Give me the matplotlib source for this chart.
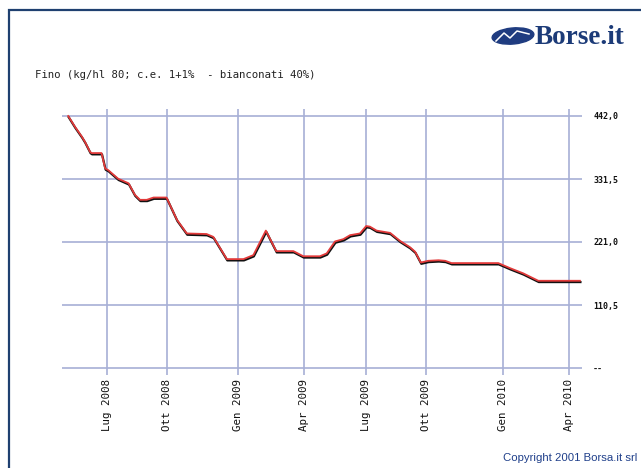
import matplotlib
matplotlib.use("Agg")
import matplotlib.pyplot as plt
import matplotlib.transforms as mtransforms
from matplotlib.patches import Rectangle, Ellipse

# time index (0..100 across plot width) and price
t = [1.2, 2.5, 3.8, 4.4, 5.4, 5.7, 7.6, 8.3, 8.9, 9.9, 10.8, 12.8, 14.0, 15.0,
     16.3, 17.6, 20.1, 22.1, 24.0, 27.8, 29.1, 31.7, 34.9, 36.8, 39.2, 41.2,
     44.5, 46.4, 49.6, 50.9, 52.5, 54.1, 55.4, 57.3, 58.5, 59.2, 60.5, 63.1,
     65.0, 66.9, 67.9, 69.0, 70.4, 72.4, 73.7, 74.9, 83.9, 86.2, 88.7, 91.6, 99.6]
price = [442, 423, 406, 397, 379, 377, 377, 350, 347, 339, 332, 324, 304, 295,
         295, 299, 299, 260, 236, 235, 230, 191, 191, 198, 241, 205,
         205, 196, 196, 201, 222, 226, 233, 236, 249, 248, 241, 237,
         223, 212, 204, 185, 188, 189, 188, 184, 184, 175, 166, 153, 153]

tick_pos = [8.7, 20.2, 33.8, 46.5, 58.5, 70.0, 84.8, 97.5]
tick_lbl = ["Lug 2008", "Ott 2008", "Gen 2009", "Apr 2009",
            "Lug 2009", "Ott 2009", "Gen 2010", "Apr 2010"]
y_ticks = [0, 110.5, 221.0, 331.5, 442.0]
y_lbl = ["--", "110,5", "221,0", "331,5", "442,0"]

W, H = 641, 468
grid_c = "#a7afd6"
blue = "#1c3b78"

fig = plt.figure(figsize=(W / 100, H / 100), dpi=100)
fig.patch.set_facecolor("white")

def fx(px):
    return px / W

def fy(py):
    return 1 - py / H

# frame
fig.patches.append(Rectangle((fx(9), fy(470)), fx(640), fy(10) - fy(470),
                             transform=fig.transFigure, fill=False,
                             edgecolor="#1f4070", lw=1.6))

# logo
fig.patches.append(Ellipse((fx(513), fy(36)), fx(42), fy(0) - fy(16), angle=8,
                           transform=fig.transFigure, color="#1f3c80"))
fig.lines.append(plt.Line2D([fx(496), fx(504), fx(510), fx(517), fx(529)],
                            [fy(41), fy(33), fy(38), fy(31), fy(34)],
                            transform=fig.transFigure, color="white", lw=1.1))
fig.text(fx(535), fy(38), "Borse.it", family="Liberation Serif", weight="bold",
         fontsize=19.5, color=blue, va="center", ha="left")

fig.text(fx(35), fy(75), "Fino (kg/hl 80; c.e. 1+1%  - bianconati 40%)",
         family="DejaVu Sans Mono", fontsize=7.7, color="#222222",
         va="center", ha="left")

fig.text(fx(637), fy(458), "Copyright 2001 Borsa.it srl", family="Liberation Sans",
         fontsize=8.2, color="#1f3f8a", va="center", ha="right")

left, right, top, bottom = 62, 582, 109, 375
ax = fig.add_axes([fx(left), fy(bottom), fx(right - left), fy(top) - fy(bottom)])
ax.set_xlim(0, 100)
y_per_px = 442 / (368 - 116)
ax.set_ylim(-(375 - 368) * y_per_px, 442 + (116 - 109) * y_per_px)
for s in ax.spines.values():
    s.set_visible(False)
ax.set_facecolor("none")

for y in y_ticks:
    ax.axhline(y, color=grid_c, lw=1.2, zorder=1)
for x in tick_pos:
    ax.axvline(x, color=grid_c, lw=1.2, zorder=1)

shadow = mtransforms.offset_copy(ax.transData, fig=fig, x=0.5, y=-1.3, units="dots")
ax.plot(t, price, color="#111111", lw=1.6, transform=shadow, zorder=3)
ax.plot(t, price, color="#e23a3a", lw=1.3, zorder=4)

ax.set_xticks(tick_pos)
ax.set_xticklabels(tick_lbl, rotation=90, family="DejaVu Sans Mono", fontsize=7.8,
                   color="#111111")
ax.tick_params(axis="x", length=0, pad=3)
ax.yaxis.tick_right()
ax.set_yticks(y_ticks)
ax.set_yticklabels(y_lbl, family="DejaVu Sans Mono", fontsize=6.0, color="#111111",
                   weight="bold")
ax.tick_params(axis="y", length=0, pad=8)

fig.savefig("out.png", dpi=100)
